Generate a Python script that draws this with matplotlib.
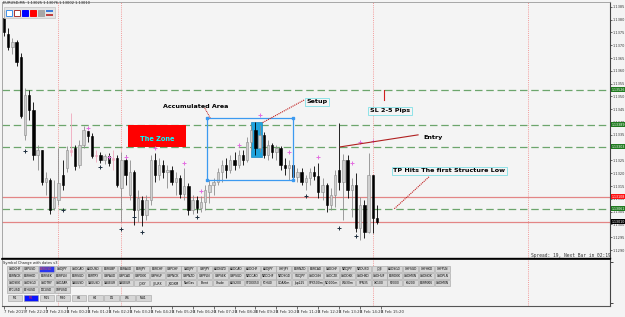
import matplotlib
matplotlib.use("Agg")
import matplotlib.pyplot as plt
from matplotlib.patches import Rectangle
import numpy as np

# EURUSD M5 candles
opens = [1.13807, 1.13744, 1.13693, 1.13713, 1.13654, 1.13350, 1.13506, 1.13447, 1.13272, 1.13291,
         1.13166, 1.13174, 1.13065, 1.13096, 1.13193, 1.13221, 1.13283, 1.13299, 1.13232, 1.13311,
         1.13365, 1.13346, 1.13268, 1.13272, 1.13252, 1.13268, 1.13252, 1.13260, 1.13143, 1.13252,
         1.13115, 1.13205, 1.13057, 1.13096, 1.13037, 1.13096, 1.13252, 1.13193, 1.13232, 1.13205,
         1.13213, 1.13166, 1.13182, 1.13119, 1.13150, 1.13057, 1.13096, 1.13065, 1.13088, 1.13127,
         1.13154, 1.13166, 1.13205, 1.13232, 1.13213, 1.13252, 1.13232, 1.13272, 1.13252, 1.13322,
         1.13369, 1.13299, 1.13350, 1.13272, 1.13311, 1.13283, 1.13299, 1.13232, 1.13221, 1.13232,
         1.13186, 1.13205, 1.13166, 1.13182, 1.13205, 1.13190, 1.13127, 1.13154, 1.13076, 1.13115,
         1.13213, 1.13166, 1.13252, 1.13135, 1.13154, 1.12986, 1.13076, 1.12971, 1.13193, 1.13025]
highs = [1.13838, 1.13768, 1.13729, 1.13721, 1.13670, 1.13533, 1.13526, 1.13479, 1.13311, 1.13291,
         1.13205, 1.13182, 1.13174, 1.13299, 1.13252, 1.13307, 1.13436, 1.13311, 1.13330, 1.13385,
         1.13365, 1.13357, 1.13291, 1.13283, 1.13275, 1.13279, 1.13291, 1.13272, 1.13283, 1.13272,
         1.13252, 1.13213, 1.13135, 1.13111, 1.13115, 1.13272, 1.13279, 1.13260, 1.13252, 1.13232,
         1.13229, 1.13205, 1.13193, 1.13221, 1.13162, 1.13115, 1.13111, 1.13111, 1.13154, 1.13174,
         1.13182, 1.13221, 1.13252, 1.13260, 1.13272, 1.13283, 1.13291, 1.13291, 1.13342, 1.13389,
         1.13400, 1.13389, 1.13361, 1.13330, 1.13318, 1.13311, 1.13307, 1.13260, 1.13252, 1.13252,
         1.13221, 1.13221, 1.13193, 1.13221, 1.13229, 1.13240, 1.13182, 1.13162, 1.13143, 1.13213,
         1.13397, 1.13275, 1.13272, 1.13182, 1.13201, 1.13108, 1.13096, 1.13279, 1.13193, 1.13076]
lows = [1.13736, 1.13682, 1.13666, 1.13619, 1.13416, 1.13330, 1.13408, 1.13252, 1.13213, 1.13154,
        1.13115, 1.13041, 1.13057, 1.13076, 1.13135, 1.13205, 1.13268, 1.13213, 1.13221, 1.13299,
        1.13322, 1.13260, 1.13244, 1.13240, 1.13236, 1.13229, 1.13213, 1.13147, 1.13010, 1.13154,
        1.13096, 1.12998, 1.13010, 1.12994, 1.13018, 1.13076, 1.13166, 1.13174, 1.13182, 1.13143,
        1.13154, 1.13115, 1.13104, 1.13096, 1.13037, 1.13041, 1.13045, 1.13049, 1.13057, 1.13084,
        1.13115, 1.13154, 1.13166, 1.13182, 1.13201, 1.13213, 1.13221, 1.13232, 1.13244, 1.13291,
        1.13272, 1.13283, 1.13260, 1.13252, 1.13260, 1.13252, 1.13213, 1.13193, 1.13174, 1.13174,
        1.13166, 1.13154, 1.13135, 1.13154, 1.13174, 1.13104, 1.13096, 1.13049, 1.13057, 1.13069,
        1.13135, 1.13018, 1.13104, 1.13029, 1.12971, 1.12940, 1.12947, 1.12967, 1.12967, 1.13002]
closes = [1.13752, 1.13693, 1.13713, 1.13635, 1.13424, 1.13506, 1.13447, 1.13272, 1.13291, 1.13166,
          1.13182, 1.13057, 1.13104, 1.13162, 1.13154, 1.13291, 1.13291, 1.13229, 1.13311, 1.13369,
          1.13346, 1.13268, 1.13272, 1.13252, 1.13268, 1.13240, 1.13260, 1.13154, 1.13252, 1.13193,
          1.13205, 1.13057, 1.13104, 1.13037, 1.13096, 1.13252, 1.13193, 1.13232, 1.13205, 1.13213,
          1.13166, 1.13182, 1.13119, 1.13150, 1.13057, 1.13096, 1.13065, 1.13088, 1.13135, 1.13154,
          1.13166, 1.13205, 1.13232, 1.13213, 1.13252, 1.13232, 1.13272, 1.13252, 1.13322, 1.13369,
          1.13299, 1.13350, 1.13272, 1.13311, 1.13283, 1.13299, 1.13232, 1.13221, 1.13232, 1.13186,
          1.13205, 1.13166, 1.13182, 1.13205, 1.13190, 1.13127, 1.13154, 1.13076, 1.13115, 1.13193,
          1.13166, 1.13252, 1.13135, 1.13154, 1.12986, 1.13076, 1.12971, 1.13193, 1.13025, 1.13010]
pink_bars = [16, 22, 26]

# fractal markers
frac_up_idx = [20, 25, 29, 36, 43, 47, 56, 61, 68, 75, 83, 85, 88]
frac_up_val = [1.13377, 1.13264, 1.13264, 1.13299, 1.13240, 1.13131, 1.13311, 1.13428,
               1.13283, 1.13264, 1.13240, 1.13322, 1.13326]
frac_dn_idx = [5, 14, 23, 28, 31, 33, 46, 72, 80, 84]
frac_dn_val = [1.13287, 1.13057, 1.13225, 1.12982, 1.13029, 1.12971, 1.13029, 1.13111, 1.12986, 1.12955]

green_levels = [1.13526, 1.13389, 1.13303, 1.13061]
red_levels = [1.13108, 1.13010]
session_lines = [13, 28, 88, 125]

price_ticks = [1.1385, 1.1380, 1.1375, 1.1370, 1.1365, 1.1360, 1.1355, 1.1350, 1.1345, 1.1340,
               1.1335, 1.1330, 1.1325, 1.1320, 1.1315, 1.1310, 1.1305, 1.1300, 1.1295, 1.1290]
time_ticks = [0, 5, 10, 15, 20, 25, 30, 35, 40, 45, 50, 55, 60, 65, 70, 75, 80, 85, 90]
time_labels = ["7 Feb 2019", "7 Feb 22:20", "7 Feb 23:20", "8 Feb 00:20", "8 Feb 01:20",
               "8 Feb 02:20", "8 Feb 03:20", "8 Feb 04:20", "8 Feb 05:20", "8 Feb 06:20",
               "8 Feb 07:20", "8 Feb 08:20", "8 Feb 09:20", "8 Feb 10:20", "8 Feb 11:20",
               "8 Feb 12:20", "8 Feb 13:20", "8 Feb 14:20", "8 Feb 15:20"]

symbols = [
    ["USDCHF", "GBPUSD", "EURUSD", "USDJPY", "USDCAD", "AUDUSD", "EURGBP", "EURAUD", "EURJPY", "EURCHF",
     "GBPCHF", "CADJPY", "GBPJPY", "AUDNZD", "AUDCAD", "AUDCHF", "AUDJPY", "CHFJPY", "EURNZD", "EURCAD",
     "CADCHF", "NZDJPY", "NZDUSD", "_DJI", "AUDSGD", "CHFSGD", "CHFHKD", "CHFPLN"],
    ["EURNOK", "EURHKD", "EURSEK", "EURPLN", "EURSGD", "EURTRY", "GBPAUD", "GBPCAD", "GBPDKK", "GBPHUF",
     "GBPNOK", "GBPNZD", "GBPPLN", "GBPSEK", "GBPSGD", "NZDCAD", "NZDCHF", "NZDSGD", "SGDJPY", "USDCNH",
     "USDCZK", "USDDKK", "USDHKD", "USDHUF", "EURDKK", "USDMXN", "USDNOK", "USDPLN"],
    ["USDSEK", "USDSGD", "USDTRY", "USDZAR", "XAUUSD", "XAGUSD", "XAUEUR", "XAGEUR", "_DXY", "_EURX",
     "_XIDXM", "NatGas", "Brent", "Crude", "AUS200", "STOXX50", "FCH40", "GDAXIm", "Jap225", "SPX500m",
     "ND100m", "WS30m", "SPN35", "UK100", "R2000", "KS200", "EURMXN", "USDMXN"],
    ["BTCUSD", "ETHUSD", "LTCUSD", "XRPUSD"],
]
timeframes = ["M1", "M5", "M15", "M30", "H1", "H4", "D1", "W1", "MN1"]

BG = "#f4f4f4"
NARROW = ["Liberation Sans Narrow", "DejaVu Sans"]

fig = plt.figure(figsize=(6.25, 3.17), dpi=100, facecolor=BG)
ax = fig.add_axes([2 / 625, 59 / 317, 608 / 625, 256 / 317], facecolor=BG)
ax2 = fig.add_axes([2 / 625, 11 / 317, 608 / 625, 47 / 317], facecolor=BG)

xlim = (-0.48, 144.6)
ax.set_xlim(*xlim)
ax.set_ylim(1.12869, 1.13869)

# session separators
for x in session_lines:
    ax.axvline(x, color="#f29a9a", lw=0.7, ls=(0, (1, 1.2)), zorder=1)
    ax2.axvline(x, color="#f29a9a", lw=0.7, ls=(0, (1, 1.2)), zorder=1)

for lv in green_levels:
    ax.axhline(lv, color="#6ca56c", lw=0.9, ls=(0, (6, 3)), zorder=1)
for lv in red_levels:
    ax.axhline(lv, color="#e38585", lw=0.9, zorder=1)

# zones drawn under the candles
ax.add_patch(Rectangle((29.6, 1.13303), 13.8, 0.00086, fc="#ff0000", ec="none", zorder=2))
ax.text(36.5, 1.13334, "The Zone", color="#00ffff", fontsize=4.8, fontweight="bold",
        family=NARROW, ha="center", va="center", zorder=6)
ax.add_patch(Rectangle((58.9, 1.13264), 2.7, 0.00136, fc="#1ea3dd", ec="#1785c0", lw=0.5, zorder=2))

# candles
for i in range(len(opens)):
    o, h, l, c = opens[i], highs[i], lows[i], closes[i]
    if i in pink_bars:
        wick, face, edge = "#f0a8bd", "#f0a8bd", "#f0a8bd"
    elif c >= o:
        wick, face, edge = "#8c8c8c", "#cfcfcf", "#8c8c8c"
    else:
        wick, face, edge = "black", "black", "black"
    ax.vlines(i, l, h, color=wick, lw=0.6, zorder=3)
    ax.add_patch(Rectangle((i - 0.28, min(o, c)), 0.56, max(abs(c - o), 0.00002),
                           fc=face, ec=edge, lw=0.4, zorder=4))

ax.plot(frac_up_idx, frac_up_val, ls="none", marker="+", ms=3, mew=0.7, color="#e36fe0", zorder=5)
ax.plot(frac_dn_idx, frac_dn_val, ls="none", marker="+", ms=3, mew=0.7, color="#1f2f3f", zorder=5)

# accumulated area box with its corner handles
ax.add_patch(Rectangle((48.4, 1.13174), 20.5, 0.00242, fill=False, ec="#3c9af0", lw=0.9, zorder=5))
ax.plot([48.4, 68.9, 48.4, 68.9], [1.13174, 1.13174, 1.13416, 1.13416], ls="none",
        marker="s", ms=1.6, color="#3c9af0", zorder=6)

txt = dict(fontsize=4.6, fontweight="bold", family=NARROW, color="black", zorder=7)
box = dict(boxstyle="square,pad=0.25", fc=BG, ec="#7fe0e6", lw=0.6)

ax.text(37.9, 1.13459, "Accumulated Area", ha="left", va="center", **txt)
ax.plot([47.9, 49.2], [1.13455, 1.13416], color="#c02020", lw=0.7, ls=(0, (1, 0.8)), zorder=6)

ax.text(74.7, 1.13479, "Setup", ha="center", va="center", bbox=box, **txt)
ax.plot([71.6, 61.6], [1.13486, 1.13397], color="#c02020", lw=0.8, ls=(0, (1, 0.8)), zorder=6)

ax.text(92.1, 1.13444, "SL 2-5 Pips", ha="center", va="center", bbox=box, **txt)
ax.plot([90.7, 90.7], [1.13526, 1.13487], color="#d02020", lw=0.8, zorder=6)

ax.text(100.0, 1.13338, "Entry", ha="left", va="center", **txt)
ax.plot([80.2, 98.8], [1.13303, 1.13350], color="#b02020", lw=0.8, zorder=6)

ax.text(106.3, 1.13209, "TP Hits The first Structure Low", ha="center", va="center", bbox=box, **txt)
ax.plot([101.4, 93.1], [1.13186, 1.13061], color="#c02020", lw=0.8, ls=(0, (1, 0.8)), zorder=6)

# price scale
ax.yaxis.tick_right()
ax.set_yticks(price_ticks)
ax.set_yticklabels([f"{v:.4f}" for v in price_ticks])
ax.tick_params(axis="y", length=1.5, width=0.5, labelsize=2.5, pad=0.6, colors="#333333")
ax.tick_params(axis="x", bottom=False, labelbottom=False)
ytr = ax.get_yaxis_transform()
label_boxes = [(lv, "#1f7a1f") for lv in green_levels] + [(red_levels[0], "#ff1010"), (red_levels[1], "black")]
for lv, col in label_boxes:
    ax.text(1.0025, lv, f"{lv:.5f}", transform=ytr, fontsize=2.3, color="white", va="center",
            clip_on=False, zorder=8, bbox=dict(boxstyle="square,pad=0.15", fc=col, ec="none"))

for s in ["left", "top"]:
    ax.spines[s].set_color("#9a9a9a")
    ax.spines[s].set_linewidth(0.6)
ax.spines["right"].set_color("#444444")
ax.spines["right"].set_linewidth(0.8)
ax.spines["bottom"].set_color("black")
ax.spines["bottom"].set_linewidth(1.0)


def ax_frac(px, py):
    return (px - 2) / 608, (258 - py) / 256


# header line and toolbar
hx, hy = ax_frac(3, 3.5)
ax.text(hx, hy, f"EURUSD,M5  {opens[-1]:.5f} {highs[-1]:.5f} {lows[-1]:.5f} {closes[-1]:.5f}",
        transform=ax.transAxes, fontsize=2.6, va="center", ha="left", color="#222222")
tx, ty = ax_frac(4, 18)
ax.add_patch(Rectangle((tx, ty), 51 / 608, 11 / 256, transform=ax.transAxes, fc="#e4e4e4",
                       ec="#c4c4c4", lw=0.5, zorder=7))
icons = [("white", "#3d8fe8"), ("white", "#a83232"), ("#0000ff", "#0000ff"),
         ("#ff0000", "#ff0000"), ("#a6a6a6", "#a6a6a6")]
for k, (fc, ec) in enumerate(icons):
    bx, by = ax_frac(6 + 8 * k, 16)
    ax.add_patch(Rectangle((bx, by), 6 / 608, 6 / 256, transform=ax.transAxes, fc=fc, ec=ec,
                           lw=0.7, zorder=8))
lx, ly = ax_frac(46, 12)
ax.add_patch(Rectangle((lx, ly), 7 / 608, 1.6 / 256, transform=ax.transAxes, fc="#3c7ad8", ec="none", zorder=8))
lx, ly = ax_frac(46, 15.5)
ax.add_patch(Rectangle((lx, ly), 7 / 608, 1.6 / 256, transform=ax.transAxes, fc="#c04040", ec="none", zorder=8))

# lower panel: symbol buttons
ax2.set_xlim(*xlim)
ax2.set_ylim(0, 1)


def button(x0, yc, w, label, fc="#d6d6d6", tc="black"):
    xf = (x0 - 2) / 608
    yf = (306 - yc - 3) / 47
    ax2.add_patch(Rectangle((xf, yf), w / 608, 6 / 47, transform=ax2.transAxes, fc=fc,
                            ec="#a0a0a0", lw=0.4, zorder=3))
    ax2.text(xf + w / 608 / 2, (306 - yc) / 47, label, transform=ax2.transAxes, fontsize=2.2,
             ha="center", va="center", color=tc, zorder=4)


ax2.text(1 / 608, (306 - 263) / 47, "Symbol Change with dates v3", transform=ax2.transAxes,
         fontsize=2.6, va="center", ha="left", color="#222222")
for r, row in enumerate(symbols):
    for k, name in enumerate(row):
        if name == "EURUSD":
            button(7 + 15.85 * k, 269 + 7 * r, 15, name, fc="#2a35f0", tc="#ff6030")
        else:
            button(7 + 15.85 * k, 269 + 7 * r, 15, name)
for k, tf in enumerate(timeframes):
    if tf == "M5":
        button(7.5 + 16.1 * k, 298, 14.5, tf, fc="#0a14ff", tc="#ff3030")
    else:
        button(7.5 + 16.1 * k, 298, 14.5, tf)

ax2.set_xticks(time_ticks)
ax2.set_xticklabels(time_labels)
for lab in ax2.get_xticklabels():
    lab.set_ha("left")
ax2.tick_params(axis="x", length=2, width=0.5, labelsize=2.8, pad=1, colors="#333333")
ax2.yaxis.tick_right()
ax2.set_yticks([0.06, 0.93])
ax2.set_yticklabels(["", ""])
ax2.tick_params(axis="y", length=2, width=0.5)
ax2.spines["top"].set_color("black")
ax2.spines["top"].set_linewidth(1.2)
ax2.spines["right"].set_color("#444444")
ax2.spines["right"].set_linewidth(0.8)
ax2.spines["left"].set_color("#9a9a9a")
ax2.spines["left"].set_linewidth(0.6)
ax2.spines["bottom"].set_color("#555555")
ax2.spines["bottom"].set_linewidth(0.8)

fig.text(531 / 625, (317 - 256) / 317, "Spread: 19, Next Bar in 02:19", family="monospace",
         fontsize=3.3, va="center", ha="left", color="#333333")

fig.savefig("out.png", dpi=100, facecolor=BG)
